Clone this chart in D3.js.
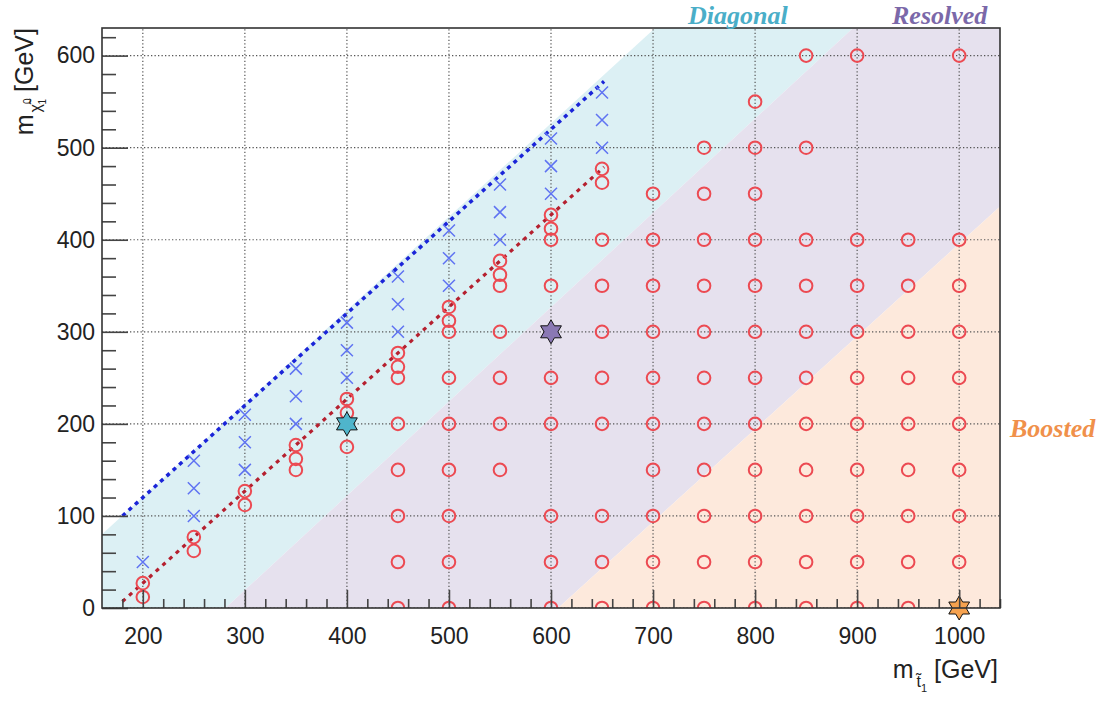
<!DOCTYPE html>
<html>
<head>
<meta charset="utf-8">
<script src="https://cdn.jsdelivr.net/npm/d3@7"></script>
<style>
  body { margin: 0; background: #fff; }
  .tick text { font-family: "Liberation Sans", Arial, sans-serif; font-size: 23px; fill: #222; }
</style>
</head>
<body>
<div id="chart"></div>
<script>
// stop masses of the signal points and the LSP masses at each of them
const circleStop = [200, 250, 300, 350, 400, 450, 500, 550, 600, 650, 700, 750, 800, 850, 900, 950, 1000];
const circleLsp = [
  [27, 12],
  [77, 62],
  [127, 112],
  [177, 162, 150],
  [227, 212, 175],
  [277, 262, 250, 200, 150, 100, 50, 0],
  [327, 312, 300, 250, 200, 150, 100, 50, 0],
  [377, 362, 350, 300, 250, 200, 150],
  [427, 412, 400, 350, 250, 200, 100, 50, 0],
  [477, 462, 400, 350, 300, 250, 200, 100, 50, 0],
  [450, 400, 350, 300, 250, 200, 150, 100, 50, 0],
  [500, 450, 400, 350, 300, 250, 200, 150, 100, 50, 0],
  [550, 500, 450, 400, 350, 300, 250, 200, 150, 100, 50, 0],
  [600, 500, 400, 350, 300, 250, 200, 150, 100, 50, 0],
  [600, 400, 350, 300, 250, 200, 150, 100, 50, 0],
  [400, 350, 300, 250, 200, 150, 100, 50, 0],
  [600, 400, 350, 300, 250, 200, 150, 100, 50]
];

const crossStop = [200, 250, 300, 350, 400, 450, 500, 550, 600, 650];
const crossLsp = [
  [50],
  [100, 130, 160],
  [150, 180, 210],
  [200, 230, 260],
  [250, 280, 310],
  [300, 330, 360],
  [350, 380, 410],
  [400, 430, 460],
  [450, 480, 510],
  [500, 530, 560]
];

// benchmark points
const starStop = [400, 600, 1000];
const starLsp = [200, 300, 0];
const starColors = ["#4fb5cb", "#8a78b4", "#f6a24f"];

// kinematic lines
const wLine = [[180, 100], [652, 572]];
const topLine = [[180, 7], [652, 479]];

// analysis regions
const diagonalRegion = [[160, 0], [160, 80], [702, 630], [896, 630], [281, 0]];
const resolvedRegion = [[281, 0], [896, 630], [1040, 630], [1040, 436], [607, 0]];
const boostedRegion = [[607, 0], [1040, 436], [1040, 0]];

const xMajor = d3.range(200, 1001, 100);
const xMinor = d3.range(180, 1041, 20).filter(v => v % 100 !== 0);
const yMajor = d3.range(0, 601, 100);
const yMinor = d3.range(20, 630, 20).filter(v => v % 100 !== 0);

const W = 1112, H = 702;
const svg = d3.select("#chart").append("svg").attr("width", W).attr("height", H);

const x = d3.scaleLinear().domain([160, 1040]).range([102, 1000]);
const y = d3.scaleLinear().domain([0, 630]).range([608, 28]);

svg.append("defs").append("clipPath").attr("id", "plot")
  .append("rect")
  .attr("x", x(160)).attr("y", y(630))
  .attr("width", x(1040) - x(160)).attr("height", y(0) - y(630));

const plot = svg.append("g").attr("clip-path", "url(#plot)");

const poly = d3.line().x(d => x(d[0])).y(d => y(d[1]));

// shaded regions
plot.append("path").attr("d", poly(diagonalRegion) + "Z").attr("fill", "#dcf0f4");
plot.append("path").attr("d", poly(resolvedRegion) + "Z").attr("fill", "#e6e1ee");
plot.append("path").attr("d", poly(boostedRegion) + "Z").attr("fill", "#fde9dc");

// grid
plot.selectAll("line.gx").data(xMajor).join("line")
  .attr("class", "gx")
  .attr("x1", d => x(d)).attr("x2", d => x(d))
  .attr("y1", y(0)).attr("y2", y(630))
  .attr("stroke", "#555").attr("stroke-width", 1.2).attr("stroke-dasharray", "1.3,2.2");
plot.selectAll("line.gy").data(yMajor).join("line")
  .attr("class", "gy")
  .attr("x1", x(160)).attr("x2", x(1040))
  .attr("y1", d => y(d)).attr("y2", d => y(d))
  .attr("stroke", "#555").attr("stroke-width", 1.2).attr("stroke-dasharray", "1.3,2.2");

// kinematic lines
plot.append("path").attr("d", poly(wLine))
  .attr("fill", "none").attr("stroke", "#1a24d8").attr("stroke-width", 3.5)
  .attr("stroke-dasharray", "4,4.5");
plot.append("path").attr("d", poly(topLine))
  .attr("fill", "none").attr("stroke", "#b5202f").attr("stroke-width", 3.2)
  .attr("stroke-dasharray", "4,5");

// signal points
const circles = circleStop.flatMap((s, i) => circleLsp[i].map(l => [s, l]));
const crosses = crossStop.flatMap((s, i) => crossLsp[i].map(l => [s, l]));

plot.selectAll("circle.sig").data(circles).join("circle")
  .attr("class", "sig")
  .attr("cx", d => x(d[0])).attr("cy", d => y(d[1]))
  .attr("r", 6.3)
  .attr("fill", "none").attr("stroke", "#ec4a52").attr("stroke-width", 2);

const xs = 6;
plot.selectAll("path.cross").data(crosses).join("path")
  .attr("class", "cross")
  .attr("d", d => {
    const cx = x(d[0]), cy = y(d[1]);
    return `M${cx - xs},${cy - xs}L${cx + xs},${cy + xs}M${cx - xs},${cy + xs}L${cx + xs},${cy - xs}`;
  })
  .attr("stroke", "#5f73f2").attr("stroke-width", 1.5).attr("fill", "none");

// hexagram for the benchmarks
function hexagram(cx, cy, R) {
  const r = R / Math.sqrt(3);
  const pts = d3.range(12).map(k => {
    const a = -Math.PI / 2 + k * Math.PI / 6;
    const rad = k % 2 === 0 ? R : r;
    return [cx + rad * Math.cos(a), cy + rad * Math.sin(a)];
  });
  return "M" + pts.map(p => p.join(",")).join("L") + "Z";
}

svg.selectAll("path.star").data(starStop).join("path")
  .attr("class", "star")
  .attr("d", (d, i) => hexagram(x(d), y(starLsp[i]), 12))
  .attr("fill", (d, i) => starColors[i])
  .attr("stroke", "#111").attr("stroke-width", 1);

// axes, ROOT style ticks inside the frame
const xAxis = svg.append("g").attr("transform", `translate(0,${y(0)})`);
xAxis.append("g").call(d3.axisBottom(x).tickValues(xMinor).tickSize(-9).tickSizeOuter(0).tickFormat(""));
xAxis.append("g").call(d3.axisBottom(x).tickValues(xMajor).tickSize(-18).tickSizeOuter(0)
  .tickPadding(20).tickFormat(d3.format("d")));

const yAxis = svg.append("g").attr("transform", `translate(${x(160)},0)`);
yAxis.append("g").call(d3.axisLeft(y).tickValues(yMinor).tickSize(-14).tickSizeOuter(0).tickFormat(""));
yAxis.append("g").call(d3.axisLeft(y).tickValues(yMajor).tickSize(-26).tickSizeOuter(0)
  .tickPadding(7).tickFormat(d3.format("d")));

svg.selectAll(".domain").remove();
svg.selectAll(".tick line").attr("stroke", "#444").attr("stroke-width", 1.6);

// frame
svg.append("rect")
  .attr("x", x(160)).attr("y", y(630))
  .attr("width", x(1040) - x(160)).attr("height", y(0) - y(630))
  .attr("fill", "none").attr("stroke", "#333").attr("stroke-width", 1.6);

// axis titles
const xt = svg.append("text")
  .attr("x", 998).attr("y", 678)
  .attr("text-anchor", "end")
  .style("font-family", "Liberation Sans, Arial, sans-serif")
  .style("font-size", "25px").attr("fill", "#222");
xt.append("tspan").text("m");
xt.append("tspan").attr("dy", 9).attr("dx", 3).style("font-size", "16px").text("t\u0303");
xt.append("tspan").attr("dy", 5).style("font-size", "11px").text("1");
xt.append("tspan").attr("dy", -14).text(" [GeV]");

const yt = svg.append("text")
  .attr("transform", "translate(33,28) rotate(-90)")
  .attr("text-anchor", "end")
  .style("font-family", "Liberation Sans, Arial, sans-serif")
  .style("font-size", "25px").attr("fill", "#222");
yt.append("tspan").text("m");
yt.append("tspan").attr("dy", 8).attr("dx", 2).style("font-size", "16px").text("\u03c7\u0303");
yt.append("tspan").attr("dy", -10).style("font-size", "10px").text("0");
yt.append("tspan").attr("dy", 15).attr("dx", -6).style("font-size", "10px").text("1");
yt.append("tspan").attr("dy", -13).text(" [GeV]");

// region labels
const regionLabels = [
  { text: "Diagonal", x: 688, y: 24, color: "#4aaec8" },
  { text: "Resolved", x: 892, y: 24, color: "#7b68a9" },
  { text: "Boosted", x: 1010, y: 437, color: "#f0904a" }
];
svg.selectAll("text.region").data(regionLabels).join("text")
  .attr("class", "region")
  .attr("x", d => d.x).attr("y", d => d.y)
  .style("font-family", "Liberation Serif, Times New Roman, serif")
  .style("font-weight", "bold").style("font-style", "italic")
  .style("font-size", "26px")
  .attr("fill", d => d.color)
  .text(d => d.text);
</script>
</body>
</html>
